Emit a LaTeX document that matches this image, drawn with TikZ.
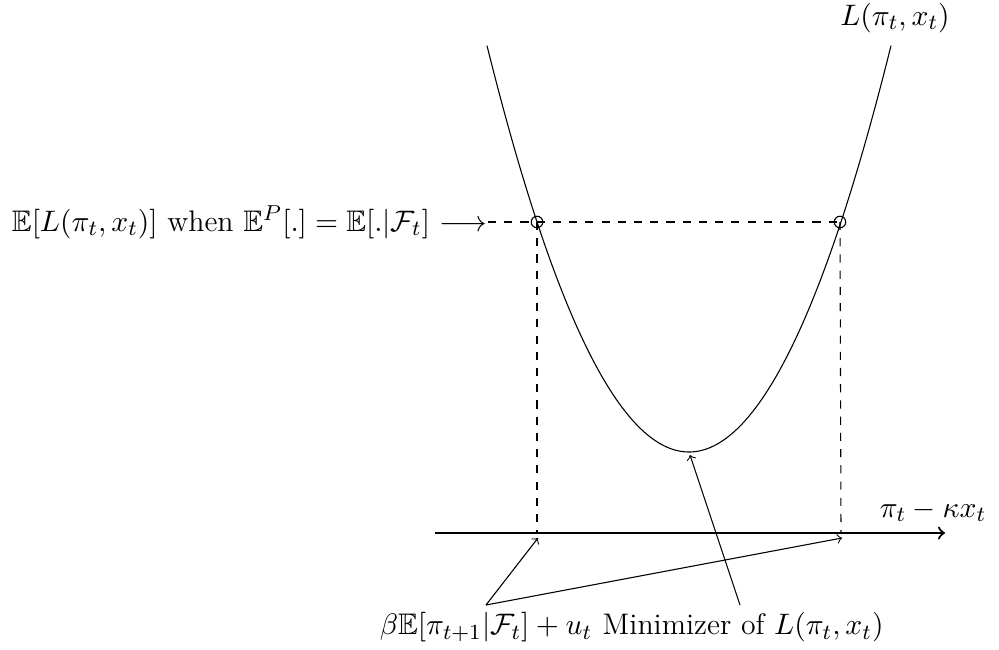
\documentclass[tikz,border=0pt]{standalone}
\usepackage{amsmath,amssymb}
\begin{document}
\begin{tikzpicture}[x=0.013cm,y=-0.013cm,
  font=\fontsize{11pt}{13pt}\selectfont,
  dashline/.style={dashed},
  pt/.style={circle,draw,inner sep=0pt,minimum size=0.15cm},
  lbl/.style={inner sep=0pt},
  ptr/.style={->}]
\useasboundingbox (0,0) rectangle (999,650);
% curve
\draw plot[domain=-202:202,samples=120] ({689+\x},{452-(0.0998*\x)*(0.0998*\x)});
\node[lbl] (Lab) at (895,18) {$L(\pi_t,x_t)$};
% circles
\node[pt] (c1) at (537,222) {};
\node[pt] (c2) at (840,222) {};
% left label
\node[lbl,anchor=east] (lft) at (488,222) {$\mathbb{E}[L(\pi_t,x_t)]$ when $\mathbb{E}^P[.]=\mathbb{E}[.|\mathcal{F}_t]$ $\longrightarrow$};
\draw[dashline] (lft.east) -- (c1.center) -- (c2.center);
% axis
\coordinate (a0) at (435,533);
\coordinate (a1) at (945,533);
\draw[thick,->] (a0) -- (a1);
\node[lbl] (axl) at (933,511) {$\pi_t-\kappa x_t$};
\coordinate (b1) at (537,533);
\coordinate (b2) at (841,533);
\draw[dashline] (c1.center) -- (b1);
\draw[dashline] (c2.center) -- (b2);
% pointers
\coordinate (s1) at (486,605);
\coordinate (t1) at (538,538);
\coordinate (t2) at (842,538);
\draw[ptr] (s1) -- (t1);
\draw[ptr] (s1) -- (t2);
\coordinate (s2) at (740,605);
\coordinate (t3) at (690,455);
\draw[ptr] (s2) -- (t3);
\node[lbl,anchor=north] (bl) at (486,612) {$\beta\mathbb{E}[\pi_{t+1}|\mathcal{F}_t]+u_t$};
\node[lbl,anchor=north west] (br) at ([xshift=3.5pt]bl.north east) {Minimizer of $L(\pi_t,x_t)$};
\end{tikzpicture}
\end{document}
